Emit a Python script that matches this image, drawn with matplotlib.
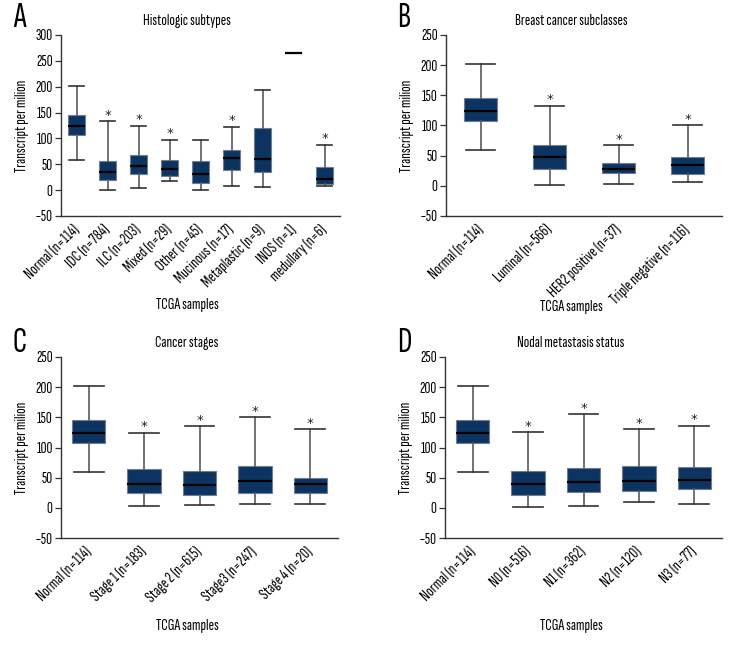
import matplotlib
matplotlib.use("Agg")
import matplotlib.pyplot as plt
import numpy as np

FONT = ['Sofia Sans Extra Condensed', 'Fira Sans Extra Condensed', 'DejaVu Sans']
plt.rcParams['font.family'] = FONT

# ---------------- data ----------------
# Panel A
a_labels = ["Normal (n=114)", "IDC (n=784)", "ILC (n=203)", "Mixed (n=29)", "Other (n=45)",
            "Mucinous (n=17)", "Metaplastic (n=9)", "INOS (n=1)", "medullary (n=6)"]
a_low = [59, 0, 4, 18, 0, 8, 6, 266, 8]
a_q1 = [107, 20, 31, 28, 14, 38, 35, 266, 11]
a_med = [124, 35, 47, 40, 31, 63, 61, 266, 22]
a_q3 = [145, 57, 68, 58, 56, 78, 120, 266, 44]
a_high = [202, 133, 124, 97, 97, 122, 194, 266, 88]
a_star = [False, True, True, True, False, True, False, False, True]

# Panel B
b_labels = ["Normal (n=114)", "Luminal (n=566)", "HER2 positive (n=37)", "Triple negative (n=116)"]
b_low = [59, 2, 3, 6]
b_q1 = [107, 28, 22, 19]
b_med = [124, 47, 28, 34]
b_q3 = [145, 67, 38, 48]
b_high = [202, 133, 67, 100]
b_star = [False, True, True, True]

# Panel C
c_labels = ["Normal (n=114)", "Stage 1 (n=183)", "Stage 2 (n=615)", "Stage3 (n=247)", "Stage 4 (n=20)"]
c_low = [59, 3, 4, 6, 6]
c_q1 = [107, 25, 21, 25, 24]
c_med = [124, 40, 38, 44, 40]
c_q3 = [145, 64, 61, 69, 50]
c_high = [202, 124, 135, 150, 130]
c_star = [False, True, True, True, True]

# Panel D
d_labels = ["Normal (n=114)", "N0 (n=516)", "N1 (n=362)", "N2 (n=120)", "N3 (n=77)"]
d_low = [59, 2, 3, 9, 6]
d_q1 = [107, 21, 26, 28, 31]
d_med = [124, 40, 42, 44, 46]
d_q3 = [145, 61, 66, 70, 67]
d_high = [202, 125, 155, 130, 136]
d_star = [False, True, True, True, True]

BOX = '#0d3461'
WHISK = '#5a5a5a'

fig = plt.figure(figsize=(7.44, 6.48), dpi=100)
renderer = fig.canvas.get_renderer()


def fit_size(s, target_px, ref=10.0, grow=1.12):
    t = fig.text(0, 0, s, fontsize=ref)
    w = t.get_window_extent(renderer).width
    t.remove()
    return ref * target_px / w * grow


FS_TITLE = fit_size('Histologic subtypes', 78)
FS_XLAB = fit_size('TCGA samples', 56)
FS_YLAB = fit_size('Transcript per milion', 82)
FS_CAT = fit_size('Normal (n=114)', 72, grow=0.97)
FS_YT = fit_size('150', 14)
FS_LET = fit_size('A', 11)


def panel(rect, labels, low, q1, med, q3, high, star, ylim, yticks, width, title, letter,
          title_xy, letter_xy, xlabel_y):
    ax = fig.add_axes(rect)
    stats = []
    for i in range(len(labels)):
        stats.append(dict(whislo=low[i], q1=q1[i], med=med[i], q3=q3[i], whishi=high[i], fliers=[]))
    ax.bxp(stats, positions=np.arange(len(labels)), widths=width, patch_artist=True,
           showfliers=False,
           boxprops=dict(facecolor=BOX, edgecolor='#6f7f93', linewidth=0.8),
           medianprops=dict(color='black', linewidth=1.6),
           whiskerprops=dict(color=WHISK, linewidth=1.2),
           capprops=dict(color='#333333', linewidth=1.2),
           capwidths=width * 0.9)
    for i in range(len(labels)):
        if star[i]:
            ax.annotate('*', xy=(i, high[i]), xytext=(0, 2.0), textcoords='offset points',
                        ha='center', va='baseline', fontsize=9.5, color='#222222',
                        family='DejaVu Sans')
    ax.set_xlim(-0.5, len(labels) - 0.5)
    ax.set_ylim(*ylim)
    ax.set_yticks(yticks)
    ax.set_yticklabels([str(t).replace('-', '\u2212') for t in yticks], fontsize=FS_YT)
    ax.set_xticks(np.arange(len(labels)))
    ax.set_xticklabels(labels, rotation=45, ha='right', va='center', rotation_mode='anchor',
                       fontsize=FS_CAT)
    ax.tick_params(axis='x', length=0, pad=8)
    ax.tick_params(axis='y', length=4, width=0.9, color='#333333', pad=2)
    for s in ['top', 'right']:
        ax.spines[s].set_visible(False)
    for s in ['left', 'bottom']:
        ax.spines[s].set_color('#333333')
        ax.spines[s].set_linewidth(1.0)
    ax.set_ylabel('Transcript per milion', fontsize=FS_YLAB, labelpad=4)
    fig.text(title_xy[0] / 744, 1 - title_xy[1] / 648, title, ha='center', va='center', fontsize=FS_TITLE)
    fig.text(letter_xy[0] / 744, 1 - letter_xy[1] / 648, letter, ha='left', va='center', fontsize=FS_LET)
    fig.text(title_xy[0] / 744, 1 - xlabel_y / 648, 'TCGA samples', ha='center', va='center', fontsize=FS_XLAB)
    return ax


panel([61 / 744, 1 - 216 / 648, (340 - 61) / 744, (216 - 35) / 648], a_labels, a_low, a_q1, a_med, a_q3,
      a_high, a_star, (-50, 300), [-50, 0, 50, 100, 150, 200, 250, 300], 0.55,
      'Histologic subtypes', 'A', (187, 21), (13, 18), 305)
panel([446 / 744, 1 - 216 / 648, (722 - 446) / 744, (216 - 35) / 648], b_labels, b_low, b_q1, b_med, b_q3,
      b_high, b_star, (-50, 250), [-50, 0, 50, 100, 150, 200, 250], 0.48,
      'Breast cancer subclasses', 'B', (571, 21), (397, 18), 307)
panel([61 / 744, 1 - 538 / 648, (338 - 61) / 744, (538 - 357) / 648], c_labels, c_low, c_q1, c_med, c_q3,
      c_high, c_star, (-50, 250), [-50, 0, 50, 100, 150, 200, 250], 0.6,
      'Cancer stages', 'C', (187, 343), (13, 343), 626)
panel([445 / 744, 1 - 538 / 648, (722 - 445) / 744, (538 - 357) / 648], d_labels, d_low, d_q1, d_med, d_q3,
      d_high, d_star, (-50, 250), [-50, 0, 50, 100, 150, 200, 250], 0.6,
      'Nodal metastasis status', 'D', (571, 343), (397, 343), 626)

fig.savefig('out.png', dpi=100)
